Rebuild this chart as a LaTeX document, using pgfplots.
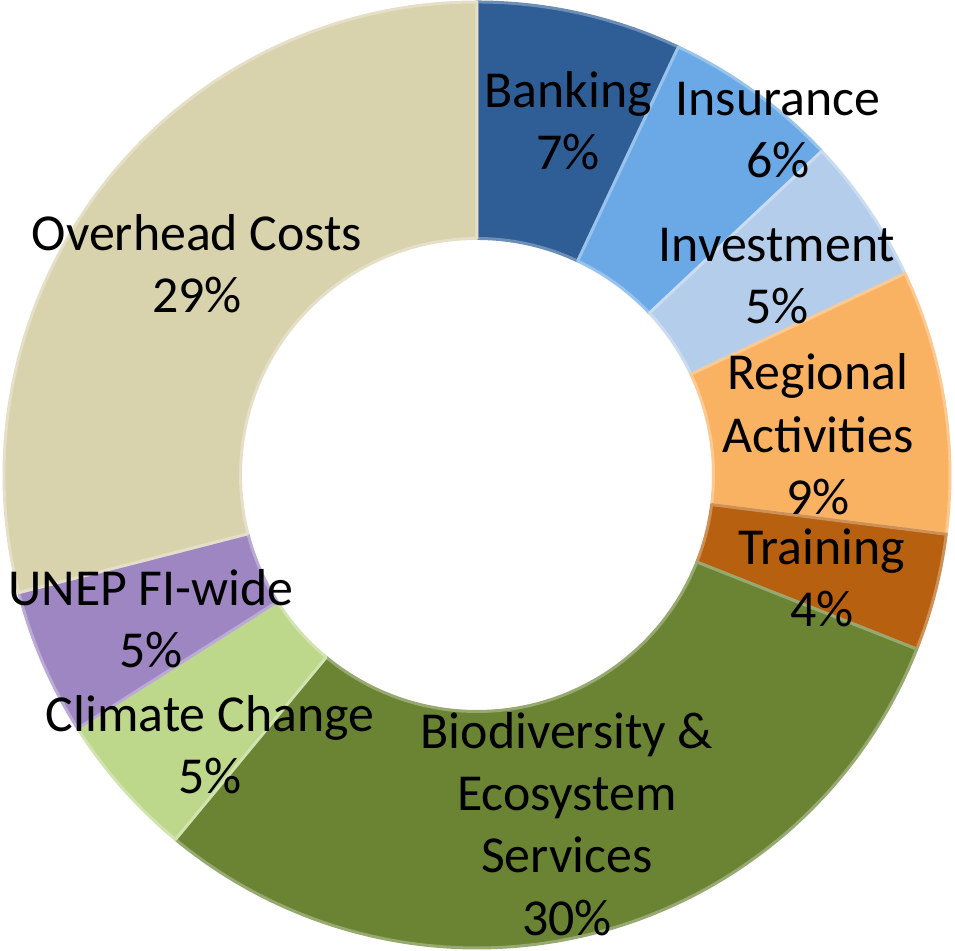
\documentclass[border=0pt]{standalone}
\usepackage{pgfplots}
\usepackage{pgfplotstable}
\pgfplotsset{compat=1.18}
\usepackage{fontspec}
\setmainfont{Carlito}
\definecolor{cBank}{HTML}{2F5E97}
\definecolor{cIns}{HTML}{6AA9E6}
\definecolor{cInv}{HTML}{B4CDEA}
\definecolor{cReg}{HTML}{F9B262}
\definecolor{cTrain}{HTML}{B7600F}
\definecolor{cBio}{HTML}{6A8434}
\definecolor{cClim}{HTML}{BDD78B}
\definecolor{cUnep}{HTML}{9D86C2}
\definecolor{cOver}{HTML}{D8D2AD}
\pgfplotstableread{
value color
7 cBank
6 cIns
5 cInv
9 cReg
4 cTrain
30 cBio
5 cClim
5 cUnep
29 cOver
}\piedata
\newcommand\lbl{\fontsize{15.6}{18.7}\selectfont}
\begin{document}
\begin{tikzpicture}
\begin{axis}[
  x=1cm, y=1cm,
  xmin=-5.042, xmax=5.053, ymin=-5.031, ymax=5.021,
  hide axis, clip=false,
]
\coordinate (bbll) at (axis cs:-5.042,-5.031);
\coordinate (bbur) at (axis cs:5.053,5.021);
\pgfplotstablegetrowsof{\piedata}
\pgfmathtruncatemacro\lastrow{\pgfplotsretval-1}
\def\cum{0}
\pgfplotsforeachungrouped \i in {0,...,\lastrow}{
  \pgfplotstablegetelem{\i}{value}\of\piedata \let\myv\pgfplotsretval
  \pgfplotstablegetelem{\i}{color}\of\piedata \let\myc\pgfplotsretval
  \pgfmathsetmacro\sa{90-3.6*\cum}
  \pgfmathsetmacro\cum{\cum+\myv}
  \pgfmathsetmacro\ea{90-3.6*\cum}
  \edef\temp{\noexpand\fill[fill=\myc, draw=\myc!70!white, line width=0.9pt, line join=round]
    ([shift={(\sa:5cm)}]axis cs:0,0) arc[start angle=\sa, end angle=\ea, radius=5cm]
    -- ([shift={(\ea:2.5cm)}]axis cs:0,0) arc[start angle=\ea, end angle=\sa, radius=2.5cm] -- cycle;}
  \temp
}
\node[align=center, font=\lbl] at (axis cs:0.962,3.742) {Banking\\7\%};
\node[align=center, font=\lbl] at (axis cs:3.182,3.647) {Insurance\\6\%};
\node[align=center, font=\lbl] at (axis cs:3.171,2.103) {Investment\\5\%};
\node[align=center, font=\lbl] at (axis cs:3.604,0.43) {Regional\\Activities\\9\%};
\node[align=center, font=\lbl] at (axis cs:3.647,-1.09) {Training\\4\%};
\node[align=center, font=\lbl] at (axis cs:0.951,-3.689) {Biodiversity \&\\Ecosystem\\Services\\30\%};
\node[align=center, font=\lbl] at (axis cs:-2.822,-2.854) {Climate Change\\5\%};
\node[align=center, font=\lbl] at (axis cs:-3.446,-1.522) {UNEP FI-wide\\5\%};
\node[align=center, font=\lbl] at (axis cs:-2.960,2.230) {Overhead Costs\\29\%};
\end{axis}
\pgfresetboundingbox
\useasboundingbox (bbll) rectangle (bbur);
\end{tikzpicture}
\end{document}
